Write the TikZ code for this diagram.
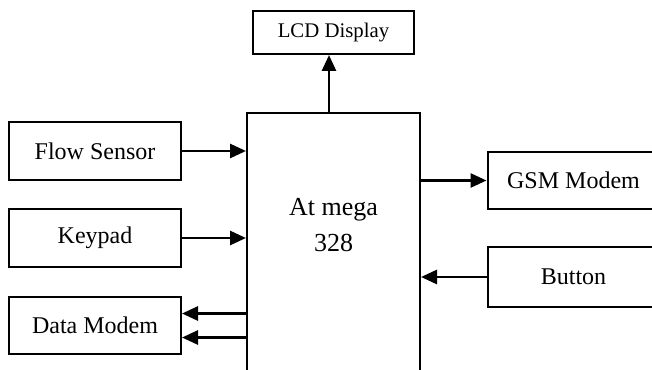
\documentclass[tikz,border=0pt]{standalone}
\usepackage{fontspec}
\setmainfont{Liberation Serif}
\usetikzlibrary{arrows.meta}

\begin{document}
\begin{tikzpicture}[x=0.5pt,y=-0.5pt,
  block/.style={draw,line width=1pt,inner sep=0pt,minimum width=86pt,minimum height=29pt,font=\fontsize{12}{14}\selectfont},
  arr/.style={line width=1.4pt,-{Triangle[length=8pt,width=7pt]}}]
\useasboundingbox (0,0) rectangle (652,369);
\clip (0,0) rectangle (652,369);
\node[block,minimum width=80.5pt,minimum height=21.5pt,font=\fontsize{10.4}{12}\selectfont] (lcd) at (333.5,32.5) {LCD Display};
\node[block,minimum width=86.5pt,minimum height=150pt,anchor=north] (mcu) at (333.5,112) {};
\node[align=center,font=\fontsize{13}{18}\selectfont] (mcutxt) at (333.5,225) {At mega\\328};
\node[block] (flow) at (95,151) {Flow Sensor};
\node[block] (key) at (95,238) {Keypad};
\node[block,minimum height=28.5pt] (data) at (95,325.5) {Data Modem};
\node[block,minimum height=28.5pt] (gsm) at (573.5,180.5) {GSM Modem};
\node[block,minimum height=30pt] (btn) at (573.5,277) {Button};
\draw[arr] ([xshift=-2.25pt]mcu.north) -- ([xshift=-2.25pt]lcd.south);
\draw[arr] (flow.east) -- (flow.east -| mcu.west);
\draw[arr] (key.east) -- (key.east -| mcu.west);
\draw[arr] ([yshift=6pt]data.east -| mcu.west) -- ([yshift=6pt]data.east);
\draw[arr] ([yshift=-6pt]data.east -| mcu.west) -- ([yshift=-6pt]data.east);
\draw[arr] (gsm.west -| mcu.east) -- (gsm.west);
\draw[arr] (btn.west) -- (btn.west -| mcu.east);
\end{tikzpicture}
\end{document}
